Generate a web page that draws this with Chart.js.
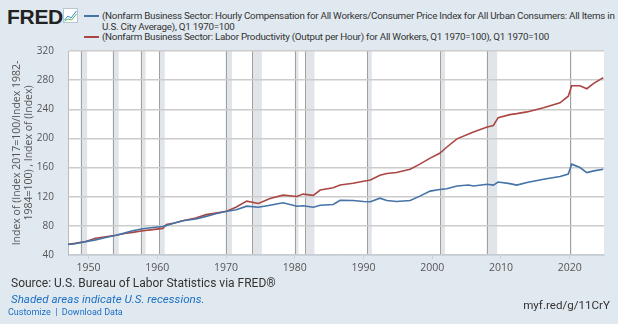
<!DOCTYPE html>
<html>
<head>
<meta charset="utf-8">
<script src="https://cdn.jsdelivr.net/npm/chart.js@4"></script>
<style>
  body { margin: 0; background: #fff; width: 624px; height: 324px; overflow: hidden; font-family: Roboto, sans-serif; }
  #painel { position: absolute; left: 0; top: 0; width: 618px; height: 324px; background: #e1e9f0; }
  #logo { position: absolute; left: 7px; top: 5px; font: bold 21px "Liberation Sans", Arial, sans-serif; color: #222; letter-spacing: -0.3px; }
  #icone { position: absolute; left: 63px; top: 8px; }
  .leg { position: absolute; left: 102px; font-size: 9.8px; letter-spacing: -0.25px; color: #333; white-space: nowrap; line-height: 11px; }
  .traco { position: absolute; left: 84px; width: 15px; height: 2px; }
  #grafico { position: absolute; left: 0; top: 31px; }
  #fonte { position: absolute; left: 11px; top: 276px; font-size: 12px; color: #333; }
  #sombra { position: absolute; left: 11px; top: 292px; font-size: 11.6px; font-style: italic; color: #1a6fc4; }
  #links { position: absolute; left: 8px; top: 307px; font-size: 9px; color: #1a6fc4; }
  #url { position: absolute; right: 8px; top: 298px; font-size: 11.6px; color: #333; }
</style>
</head>
<body>
<div id="painel">
  <div id="logo">FRED</div>
  <svg id="icone" width="15" height="15" viewBox="0 0 15 15">
    <rect x="0.5" y="0.5" width="14" height="14" fill="#fff" stroke="#b9c6d2"/>
    <polyline points="1.5,12 5,8 8,10 13.5,3" fill="none" stroke="#2f8fd0" stroke-width="1"/>
    <polyline points="1.5,13 5,11 8.5,12 13.5,6" fill="none" stroke="#5cb85c" stroke-width="1"/>
  </svg>
  <div class="traco" style="top:15px;background:#4572a7"></div>
  <div class="leg" style="top:10px">(Nonfarm Business Sector: Hourly Compensation for All Workers/Consumer Price Index for All Urban Consumers: All Items in<br>U.S. City Average), Q1 1970=100</div>
  <div class="traco" style="top:36px;background:#aa4643"></div>
  <div class="leg" style="top:31px">(Nonfarm Business Sector: Labor Productivity (Output per Hour) for All Workers, Q1 1970=100), Q1 1970=100</div>
  <canvas id="grafico" width="618" height="246"></canvas>
  <div id="fonte">Source: U.S. Bureau of Labor Statistics via FRED®</div>
  <div id="sombra">Shaded areas indicate U.S. recessions.</div>
  <div id="links">Customize &nbsp;|&nbsp; Download Data</div>
  <div id="url">myf.red/g/11CrY</div>
</div>
<script>
// anos (fração do ano) dos pontos
const anos = [1947, 1948, 1949.6, 1951, 1952.5, 1954, 1955.2, 1956.4, 1957.9, 1959, 1960.8, 1961.3,
  1962.5, 1963.7, 1965.6, 1967.1, 1968.5, 1970.1, 1971.5, 1973, 1974.7, 1976.4, 1978.3, 1980.3,
  1981.2, 1982.7, 1983.7, 1985.6, 1986.6, 1988.5, 1990, 1991, 1992.4, 1993.4, 1994.8, 1996.8,
  1998.2, 1999.7, 2001.1, 2002.1, 2003.6, 2005.3, 2006, 2008, 2008.9, 2009.6, 2011.3, 2012.3,
  2013.8, 2016.2, 2018.6, 2019.8, 2020.3, 2021.5, 2022.5, 2023.5, 2024.9];

// remuneração horária real (azul)
const remuneracao = [54.5, 55.5, 58.4, 60.8, 64, 67, 70, 73.3, 76, 77.5, 79.2, 80.5,
  84, 87, 89.5, 93, 96.5, 100, 102, 107, 105.6, 108.3, 111.7, 107,
  107.5, 105.6, 108.3, 109.3, 115, 114.8, 113.4, 113, 118, 114.8, 113.4, 114.8,
  120.8, 127.7, 130, 131, 134.7, 136, 134.7, 137, 136, 140.2, 138, 136,
  139.4, 144, 147.7, 151, 164.7, 160, 153.2, 155.5, 157.8];

// produtividade do trabalho (vermelho)
const produtividade = [54.8, 56, 58.4, 63, 65, 67, 69.5, 71, 73.3, 74.5, 76.5, 82,
  84, 87, 90.8, 95.4, 97.5, 100, 106, 113.9, 110.7, 117.6, 122.2, 120.4,
  123.6, 121.8, 129.1, 132.4, 136, 138.4, 141.2, 143, 149.5, 151.8, 153.2, 157.8,
  164.7, 173, 179.6, 187.9, 199.4, 206, 208.7, 215.6, 217.8, 228.5, 232.7, 234,
  236.4, 242, 248.9, 258, 272.4, 272.4, 268.2, 275.6, 283.5];

// recessões (início, fim)
const recessoes = [[1948.83, 1949.79], [1953.5, 1954.37], [1957.58, 1958.29], [1960.29, 1961.08],
  [1969.92, 1970.87], [1973.83, 1975.21], [1980.0, 1980.54], [1981.5, 1982.87],
  [1990.5, 1991.21], [2001.17, 2001.87], [2007.92, 2009.46], [2020.08, 2020.29]];

const anosTicks = [1950, 1960, 1970, 1980, 1990, 2000, 2010, 2020];

function pontos(valores) {
    return anos.map((a, i) => ({ x: a, y: valores[i] }));
}

// fundo branco e faixas de recessão por baixo da grade
const faixas = {
    id: 'faixas',
    beforeDraw(chart) {
        const { ctx, chartArea: a, scales: { x } } = chart;
        ctx.save();
        ctx.fillStyle = '#fff';
        ctx.fillRect(a.left, a.top, a.right - a.left, a.bottom - a.top);
        recessoes.forEach(([ini, fim]) => {
            const x0 = x.getPixelForValue(ini);
            const x1 = x.getPixelForValue(fim);
            ctx.fillStyle = '#e1e5ea';
            ctx.fillRect(x0, a.top, Math.max(x1 - x0, 1), a.bottom - a.top);
            ctx.fillStyle = '#a0a0a0';
            ctx.fillRect(Math.round(x0), a.top, 1, a.bottom - a.top);
        });
        ctx.restore();
    }
};

const ctx = document.getElementById('grafico').getContext('2d');
new Chart(ctx, {
    type: 'line',
    data: {
        datasets: [{
            data: pontos(remuneracao),
            borderColor: '#4572a7',
            borderWidth: 1.6,
            pointRadius: 0
        }, {
            data: pontos(produtividade),
            borderColor: '#aa4643',
            borderWidth: 1.6,
            pointRadius: 0
        }]
    },
    options: {
        responsive: false,
        animation: false,
        layout: { padding: { top: 8, right: 14 } },
        plugins: { legend: { display: false }, tooltip: { enabled: false } },
        scales: {
            x: {
                type: 'linear',
                min: 1947,
                max: 2025,
                afterBuildTicks: s => { s.ticks = anosTicks.map(v => ({ value: v })); },
                afterFit: s => { s.height = 22; },
                ticks: {
                    callback: v => String(v),
                    color: '#555',
                    font: { family: 'Open Sans', size: 10.5 },
                    padding: 3,
                    maxRotation: 0
                },
                grid: { drawOnChartArea: false, tickLength: 4, color: '#c8d3dd' },
                border: { color: '#c8d3dd' }
            },
            y: {
                min: 40,
                max: 320,
                afterFit: s => { s.width = 68; },
                ticks: {
                    stepSize: 40,
                    color: '#555',
                    font: { family: 'Open Sans', size: 10 },
                    padding: 14
                },
                grid: { color: '#cccccc', lineWidth: 1.5, drawTicks: false },
                border: { color: '#bbbbbb' },
                title: {
                    display: true,
                    text: ['Index of (Index 2017=100/Index 1982-', '1984=100) , Index of (Index)'],
                    color: '#555',
                    font: { family: 'Open Sans', size: 10.5, lineHeight: 1.15 },
                    padding: { top: 11, bottom: 0 }
                }
            }
        }
    },
    plugins: [faixas]
});
</script>
</body>
</html>
